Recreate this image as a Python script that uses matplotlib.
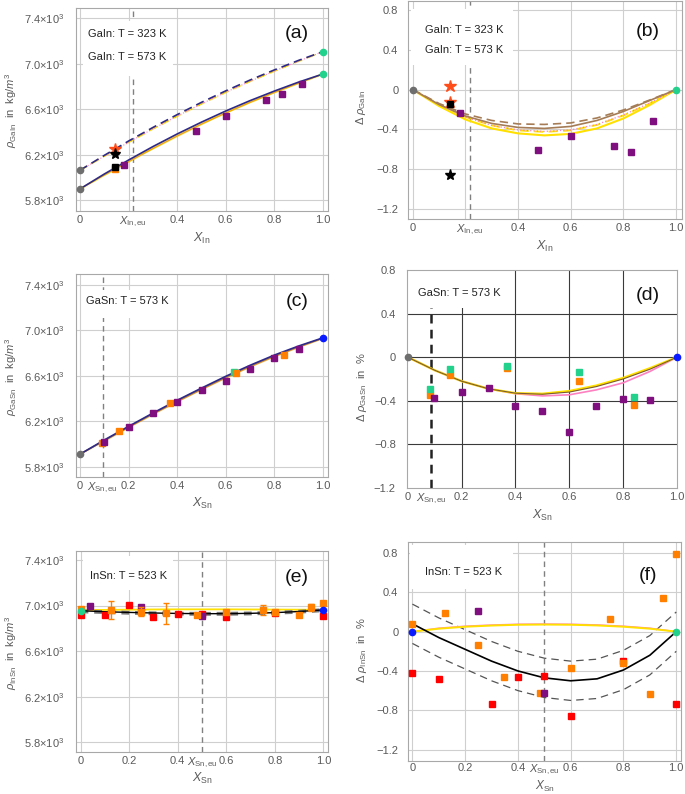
import matplotlib
matplotlib.use('Agg')
import matplotlib.pyplot as plt
from matplotlib.patches import Rectangle

plt.rcParams['font.family'] = ['Liberation Sans', 'DejaVu Sans']
plt.rcParams['mathtext.fontset'] = 'custom'
plt.rcParams['mathtext.rm'] = 'Liberation Sans'
plt.rcParams['mathtext.it'] = 'Liberation Sans:italic'
plt.rcParams['mathtext.bf'] = 'Liberation Sans:bold'
plt.rcParams['axes.unicode_minus'] = True

# ------------------------------------------------------------------ data
xs = [0.0, 0.1, 0.2, 0.3, 0.4, 0.5, 0.6, 0.7, 0.8, 0.9, 1.0]
ends_x = [0.0, 1.0]

# (a) GaIn density
a_navy_323 = [6064, 6195, 6321, 6440, 6553, 6661, 6762, 6857, 6946, 7030, 7107]
a_yellow_323 = [6064, 6188, 6310, 6428, 6540, 6648, 6750, 6846, 6936, 7023, 7107]
a_navy_573 = [5900, 6031, 6154, 6272, 6383, 6487, 6585, 6676, 6760, 6839, 6910]
a_orange_573 = [5900, 6022, 6140, 6255, 6365, 6470, 6568, 6661, 6748, 6830, 6910]
a_gray_y = [6064, 5900]
a_green_y = [7107, 6910]
a_purple_x = [0.181, 0.477, 0.602, 0.765, 0.831, 0.915]
a_purple_y = [6111, 6412, 6538, 6679, 6732, 6820]
a_sq_orange = (0.142, 6072)
a_sq_black = (0.146, 6092)
a_star_orange = (0.144, 6251)
a_star_black = (0.146, 6207)
x_in_eu = 0.218

# (b) GaIn deviation
b_brown_solid = [0, -0.15, -0.265, -0.34, -0.38, -0.39, -0.37, -0.31, -0.22, -0.11, 0]
b_brown_dash = [0, -0.14, -0.245, -0.31, -0.345, -0.35, -0.335, -0.285, -0.205, -0.105, 0]
b_yellow_dash = [0, -0.15, -0.275, -0.36, -0.41, -0.425, -0.41, -0.355, -0.26, -0.14, 0]
b_pink_dot = [0, -0.15, -0.275, -0.36, -0.405, -0.42, -0.405, -0.35, -0.255, -0.135, 0]
b_yellow_solid = [0, -0.165, -0.30, -0.39, -0.44, -0.46, -0.445, -0.39, -0.29, -0.155, 0]
b_purple_x = [0.18, 0.475, 0.60, 0.766, 0.83, 0.914]
b_purple_y = [-0.24, -0.603, -0.464, -0.569, -0.63, -0.315]
b_sq_black = (0.142, -0.146)
b_star_orange = [(0.142, 0.034), (0.142, -0.12)]
b_star_black = (0.142, -0.858)

# (c) GaSn density
c_navy = [5910, 6035, 6155, 6272, 6385, 6492, 6596, 6693, 6783, 6863, 6935]
c_brown = [5910, 6030, 6150, 6266, 6378, 6485, 6588, 6686, 6776, 6857, 6932]
c_orange = [5910, 6027, 6145, 6261, 6372, 6479, 6582, 6679, 6770, 6852, 6930]
c_purple_x = [0.1, 0.2, 0.3, 0.4, 0.5, 0.6, 0.7, 0.8, 0.9]
c_purple_y = [6020, 6152, 6276, 6373, 6475, 6557, 6660, 6754, 6833]
c_orange_x = [0.09, 0.16, 0.37, 0.64, 0.84]
c_orange_y = [6005, 6114, 6364, 6622, 6784]
c_green_pt = (0.635, 6630)
c_ends_y = [5910, 6935]
x_sn_eu_gasn = 0.093

# (d) GaSn deviation
d_yellow = [0, -0.12, -0.22, -0.29, -0.33, -0.335, -0.31, -0.26, -0.19, -0.10, 0]
d_brown = [0, -0.12, -0.22, -0.29, -0.33, -0.34, -0.32, -0.27, -0.20, -0.11, 0]
d_pink = [0, -0.12, -0.22, -0.29, -0.335, -0.355, -0.345, -0.30, -0.235, -0.13, 0]
d_purple_x = [0.097, 0.2, 0.3, 0.4, 0.5, 0.6, 0.7, 0.8, 0.9]
d_purple_y = [-0.37, -0.32, -0.285, -0.444, -0.49, -0.683, -0.45, -0.386, -0.395]
d_green_x = [0.081, 0.158, 0.367, 0.636, 0.84]
d_green_y = [-0.294, -0.11, -0.08, -0.14, -0.367]
d_orange_x = [0.081, 0.158, 0.367, 0.636, 0.84]
d_orange_y = [-0.343, -0.162, -0.095, -0.214, -0.44]
x_sn_eu_d = 0.087

# (e) InSn density
e_black = [6955, 6946, 6940, 6935, 6931, 6929, 6929, 6932, 6938, 6948, 6962]
e_graydash = [6950, 6943, 6937, 6932, 6929, 6927, 6928, 6931, 6937, 6946, 6960]
e_yellow = [6960, 6962, 6964, 6966, 6967, 6967, 6967, 6966, 6965, 6964, 6962]
e_red_x = [0.0, 0.1, 0.2, 0.3, 0.4, 0.5, 0.6, 0.8, 1.0]
e_red_y = [6915, 6917, 7005, 6903, 6924, 6928, 6897, 6935, 6910]
e_orange_x = [0.0, 0.125, 0.25, 0.35, 0.48, 0.6, 0.75, 0.8, 0.9, 0.95, 1.0]
e_orange_y = [6970, 6961, 6947, 6932, 6913, 6943, 6961, 6940, 6917, 6985, 7022]
e_orange_err = [15, 75, 38, 95, 10, 15, 45, 20, 10, 30, 20]
e_purple_x = [0.04, 0.25, 0.5]
e_purple_y = [6995, 6985, 6910]
e_purple_err = [15, 15, 10]
e_ends_y = [6955, 6962]
x_sn_eu_insn = 0.5

# (f) InSn deviation
f_black = [0.08, -0.06, -0.18, -0.30, -0.40, -0.47, -0.50, -0.48, -0.39, -0.24, 0.0]
f_upper = [0.28, 0.14, 0.02, -0.10, -0.20, -0.27, -0.30, -0.28, -0.19, -0.04, 0.20]
f_lower = [-0.12, -0.26, -0.38, -0.50, -0.60, -0.67, -0.70, -0.68, -0.59, -0.44, -0.20]
f_yellow = [0, 0.03, 0.05, 0.062, 0.07, 0.072, 0.07, 0.063, 0.05, 0.03, 0]
f_pink = [0, 0.036, 0.056, 0.068, 0.076, 0.078, 0.076, 0.069, 0.056, 0.036, 0]
f_orange_x = [0.0, 0.125, 0.25, 0.348, 0.484, 0.6, 0.749, 0.797, 0.899, 0.949, 1.0]
f_orange_y = [0.078, 0.19, -0.136, -0.458, -0.625, -0.367, 0.126, -0.323, -0.635, 0.34, 0.79]
f_red_x = [0.0, 0.1, 0.3, 0.4, 0.5, 0.6, 0.8, 1.0]
f_red_y = [-0.42, -0.482, -0.737, -0.465, -0.448, -0.856, -0.295, -0.737]
f_purple_x = [0.25, 0.5]
f_purple_y = [0.21, -0.625]

# ------------------------------------------------------------------ style
NAVY = '#2d2a8a'
YELLOW = '#ffe000'
ORANGE_L = '#f0a020'
BROWN = '#a57c55'
PINK = '#ff80c0'
PURPLE = '#7f0f7e'
ORANGE = '#ff8000'
RED = '#ff0000'
GREEN = '#22d18b'
GRAY = '#6e6e6e'
BLUE = '#0a1aff'
STAR_OR = '#ff4d1a'
TICKC = '#5a5a5a'
LGRID = '#cfcfcf'

W, H = 685, 794
fig = plt.figure(figsize=(W / 100, H / 100), dpi=100)


def px(x, y):
    return x / W, 1 - y / H


def add_ax(l, t, r, b):
    return fig.add_axes([l / W, 1 - b / H, (r - l) / W, (b - t) / H])


def style(ax, xlim, ylim, xgrid, ygrid, xticks, xtl, yticks, ytl, gridc=LGRID,
          ypad=8, xpad=3):
    ax.set_xlim(*xlim)
    ax.set_ylim(*ylim)
    for g in xgrid:
        ax.axvline(g, color=gridc, lw=0.8, zorder=0)
    for g in ygrid:
        ax.axhline(g, color=gridc, lw=0.8, zorder=0)
    ax.set_xticks(xticks)
    ax.set_xticklabels(xtl)
    ax.set_yticks(yticks)
    ax.set_yticklabels(ytl)
    ax.tick_params(axis='both', length=0, labelsize=8, labelcolor=TICKC)
    ax.tick_params(axis='y', pad=ypad)
    ax.tick_params(axis='x', pad=xpad)
    for s in ax.spines.values():
        s.set_color('#a8a8a8')
        s.set_linewidth(0.8)


def box(ax, l, t, r, b):
    x0, y0 = px(l, b)
    ax.add_patch(Rectangle((x0, y0), (r - l) / W, (b - t) / H,
                           transform=fig.transFigure, facecolor='white',
                           edgecolor='none', zorder=0.6))


def label(ax, x, y, s):
    fx, fy = px(x, y)
    ax.text(fx, fy, s, transform=fig.transFigure, fontsize=8, color='#222222',
            ha='left', va='center', zorder=5)


def panel(ax, x, y, s):
    fx, fy = px(x, y)
    ax.text(fx, fy, s, transform=fig.transFigure, fontsize=14, color='#111111',
            ha='center', va='center', zorder=5)


def ylab(ax, s, x, y):
    # x is the right edge of the rotated label
    ax.set_ylabel(s, fontsize=8, color=TICKC)
    fx, fy = px(x, y)
    ax.yaxis.set_label_coords(fx, fy, transform=fig.transFigure)


def xlab(ax, s, x, y, size=9):
    ax.set_xlabel(s, fontsize=size, color=TICKC)
    fx, fy = px(x, y)
    ax.xaxis.set_label_coords(fx, fy, transform=fig.transFigure)


rho_ticks = [5800, 6200, 6600, 7000, 7400]
rho_tl = [r'5.8$\times$10$^{3}$', r'6.2$\times$10$^{3}$', r'6.6$\times$10$^{3}$',
          r'7.0$\times$10$^{3}$', r'7.4$\times$10$^{3}$']
d_ticks = [-1.2, -0.8, -0.4, 0, 0.4, 0.8]
d_tl = ['\u22121.2', '\u22120.8', '\u22120.4', '0', '0.4', '0.8']
grid01 = [0, 0.2, 0.4, 0.6, 0.8, 1.0]
XIN = r'$X_{\mathrm{In}}$'
XINEU = r'$X_{\mathrm{In,eu}}$'
XSN = r'$X_{\mathrm{Sn}}$'
XSNEU = r'$X_{\mathrm{Sn,eu}}$'
DASH = (0, (4, 3))

# ------------------------------------------------------------------ (a)
ax = add_ax(76, 8, 328, 211)
style(ax, (-0.0165, 1.0206), (5706, 7490), grid01, rho_ticks,
      [0, x_in_eu, 0.4, 0.6, 0.8, 1.0], ['0', XINEU, '0.4', '0.6', '0.8', '1.0'],
      rho_ticks, rho_tl)
ax.axvline(x_in_eu, color='#808080', lw=1.0, ls=DASH, zorder=0.3)
box(ax, 83, 21, 173, 76)
ax.plot(xs, a_yellow_323, color=YELLOW, lw=1.2, ls=(0, (5, 3)), zorder=2)
ax.plot(xs, a_yellow_323, color=PINK, lw=0.8, ls=':', zorder=2.1)
ax.plot(xs, a_navy_323, color=NAVY, lw=1.2, ls=(0, (5, 3)), zorder=2.2)
ax.plot(xs, a_orange_573, color=YELLOW, lw=1.3, zorder=2)
ax.plot(xs, a_orange_573, color=ORANGE_L, lw=0.8, zorder=2.1)
ax.plot(xs, a_navy_573, color=NAVY, lw=1.2, zorder=2.2)
ax.plot(ends_x[:1] * 2, a_gray_y, 'o', color=GRAY, ms=4.5, zorder=4, clip_on=False)
ax.plot(ends_x[1:] * 2, a_green_y, 'o', color=GREEN, ms=4.5, zorder=4, clip_on=False)
ax.plot(a_purple_x, a_purple_y, 's', color=PURPLE, ms=4, zorder=4)
ax.plot(*a_sq_orange, 's', color=ORANGE, ms=4.5, zorder=4)
ax.plot(*a_sq_black, 's', color='black', ms=4, zorder=4.1)
ax.plot(*a_star_orange, '*', color=STAR_OR, ms=9, zorder=4)
ax.plot(*a_star_black, '*', color='black', ms=8, zorder=4.1)
label(ax, 88, 34, 'GaIn: T = 323 K')
label(ax, 88, 57, 'GaIn: T = 573 K')
panel(ax, 297, 33, '(a)')
ylab(ax, r'$\rho_{\mathrm{GaIn}}$  in  kg$/m^{3}$', 19, 110)
xlab(ax, XIN, 202, 231)

# ------------------------------------------------------------------ (b)
ax = add_ax(408, 1, 682, 219)
style(ax, (-0.018, 1.023), (-1.3, 0.89), grid01, d_ticks,
      [0, x_in_eu, 0.4, 0.6, 0.8, 1.0], ['0', XINEU, '0.4', '0.6', '0.8', '1.0'],
      d_ticks, d_tl, ypad=7)
ax.axvline(x_in_eu, color='#808080', lw=1.0, ls=DASH, zorder=0.3)
box(ax, 411, 9, 513, 65)
ax.plot(xs, b_yellow_solid, color=YELLOW, lw=1.5, zorder=2)
ax.plot(xs, b_yellow_dash, color=YELLOW, lw=1.3, ls=(0, (5, 3)), zorder=2)
ax.plot(xs, b_pink_dot, color=PINK, lw=0.9, ls=':', zorder=2.1)
ax.plot(xs, b_brown_solid, color=BROWN, lw=1.2, zorder=2.2)
ax.plot(xs, b_brown_dash, color=BROWN, lw=1.2, ls=(0, (5, 3)), zorder=2.2)
ax.plot([0], [0], 'o', color=GRAY, ms=4.5, zorder=4, clip_on=False)
ax.plot([1], [0], 'o', color=GREEN, ms=4.5, zorder=4, clip_on=False)
ax.plot(b_purple_x, b_purple_y, 's', color=PURPLE, ms=4, zorder=4)
for sx, sy in b_star_orange:
    ax.plot(sx, sy, '*', color=STAR_OR, ms=9, zorder=4)
ax.plot(*b_sq_black, 's', color='black', ms=4, zorder=4.1)
ax.plot(*b_star_black, '*', color='black', ms=8, zorder=4.1)
label(ax, 425, 30, 'GaIn: T = 323 K')
label(ax, 425, 50, 'GaIn: T = 573 K')
panel(ax, 648, 31, '(b)')
ylab(ax, r'$\Delta\ \rho_{\mathrm{GaIn}}$', 368, 107)
xlab(ax, XIN, 545, 239)

# ------------------------------------------------------------------ (c)
ax = add_ax(76, 274, 328, 477)
style(ax, (-0.0165, 1.0206), (5709, 7497), grid01, rho_ticks,
      [0, x_sn_eu_gasn, 0.2, 0.4, 0.6, 0.8, 1.0],
      ['0', XSNEU, '0.2', '0.4', '0.6', '0.8', '1.0'], rho_ticks, rho_tl)
ax.axvline(x_sn_eu_gasn, color='#808080', lw=1.0, ls=DASH, zorder=0.3)
box(ax, 83, 290, 173, 318)
ax.plot(xs, c_orange, color=ORANGE_L, lw=1.1, zorder=2)
ax.plot(xs, c_brown, color=BROWN, lw=1.0, zorder=2.1)
ax.plot(xs, c_navy, color=NAVY, lw=1.2, zorder=2.2)
ax.plot([0], c_ends_y[:1], 'o', color=GRAY, ms=4.5, zorder=4, clip_on=False)
ax.plot([1], c_ends_y[1:], 'o', color=BLUE, ms=4.5, zorder=4, clip_on=False)
ax.plot(*c_green_pt, 's', color=GREEN, ms=4, zorder=3.9)
ax.plot(c_orange_x, c_orange_y, 's', color=ORANGE, ms=4, zorder=4)
ax.plot(c_purple_x, c_purple_y, 's', color=PURPLE, ms=4, zorder=4)
label(ax, 86, 301, 'GaSn: T = 573 K')
panel(ax, 297, 302, '(c)')
ylab(ax, r'$\rho_{\mathrm{GaSn}}$  in  kg$/m^{3}$', 19, 377)
xlab(ax, XSN, 202, 496)

# ------------------------------------------------------------------ (d)
ax = add_ax(407, 270, 677, 488)
style(ax, (-0.003, 1.0), (-1.2, 0.8), [0.2, 0.4, 0.6, 0.8], [-0.8, -0.4, 0, 0.4],
      [0, x_sn_eu_d, 0.2, 0.4, 0.6, 0.8, 1.0],
      ['0', XSNEU, '0.2', '0.4', '0.6', '0.8', '1.0'], d_ticks, d_tl,
      gridc='#3a3a3a', ypad=8)
ax.axvline(x_sn_eu_d, color='#222222', lw=1.8, ls=(0, (3.5, 2.5)), zorder=0.3)
box(ax, 409, 271, 512, 308)
ax.plot(xs, d_pink, color=PINK, lw=1.2, zorder=2)
ax.plot(xs, d_yellow, color=YELLOW, lw=1.6, zorder=2.1)
ax.plot(xs, d_brown, color='#7a5a35', lw=0.8, zorder=2.2)
ax.plot([0], [0], 'o', color=GRAY, ms=4.5, zorder=4, clip_on=False)
ax.plot([1], [0], 'o', color=BLUE, ms=4.5, zorder=4, clip_on=False)
ax.plot(d_orange_x, d_orange_y, 's', color=ORANGE, ms=4, zorder=4)
ax.plot(d_green_x, d_green_y, 's', color=GREEN, ms=4, zorder=4)
ax.plot(d_purple_x, d_purple_y, 's', color=PURPLE, ms=4, zorder=4)
label(ax, 418, 293, 'GaSn: T = 573 K')
panel(ax, 648, 295, '(d)')
ylab(ax, r'$\Delta\ \rho_{\mathrm{GaSn}}$  in  %', 369, 387)
xlab(ax, XSN, 542, 508)

# ------------------------------------------------------------------ (e)
ax = add_ax(76, 551, 328, 752)
style(ax, (-0.019, 1.019), (5715, 7479), grid01, rho_ticks,
      [0, 0.2, 0.4, x_sn_eu_insn, 0.6, 0.8, 1.0],
      ['0', '0.2', '0.4', XSNEU, '0.6', '0.8', '1.0'], rho_ticks, rho_tl)
ax.axvline(x_sn_eu_insn, color='#808080', lw=1.0, ls=DASH, zorder=0.3)
box(ax, 83, 556, 173, 590)
ax.plot(xs, e_yellow, color=YELLOW, lw=1.3, zorder=2)
ax.plot(xs, e_graydash, color='#777777', lw=2.8, ls=(0, (2, 1.5)), zorder=2.1)
ax.plot(xs, e_black, color='black', lw=1.0, zorder=2.2)
ax.plot(e_red_x, e_red_y, 's', color=RED, ms=4, zorder=3, clip_on=False)
ax.errorbar(e_purple_x, e_purple_y, yerr=e_purple_err, fmt='s', color=PURPLE,
            ecolor='#c060c0', ms=4, elinewidth=0.8, capsize=1.5, zorder=3.5)
ax.errorbar(e_orange_x, e_orange_y, yerr=e_orange_err, fmt='s', color=ORANGE,
            ecolor=ORANGE, ms=4, elinewidth=1.0, capsize=2, zorder=4)
ax.plot([0], e_ends_y[:1], 'o', color=GREEN, ms=4.5, zorder=5, clip_on=False)
ax.plot([1], e_ends_y[1:], 'o', color=BLUE, ms=4.5, zorder=5, clip_on=False)
label(ax, 90, 576, 'InSn: T = 523 K')
panel(ax, 297, 577, '(e)')
ylab(ax, r'$\rho_{\mathrm{InSn}}$  in  kg$/m^{3}$', 19, 653)
xlab(ax, XSN, 202, 771)

# ------------------------------------------------------------------ (f)
ax = add_ax(408, 542, 681, 761)
style(ax, (-0.0167, 1.018), (-1.316, 0.912), grid01, d_ticks,
      [0, 0.2, 0.4, x_sn_eu_insn, 0.6, 0.8, 1.0],
      ['0', '0.2', '0.4', XSNEU, '0.6', '0.8', '1.0'], d_ticks, d_tl, ypad=7,
      xpad=1.5)
ax.axvline(x_sn_eu_insn, color='#808080', lw=1.0, ls=DASH, zorder=0.3)
box(ax, 410, 545, 513, 589)
ax.plot(xs, f_upper, color='#555555', lw=0.9, ls=(0, (6, 4)), zorder=2)
ax.plot(xs, f_lower, color='#555555', lw=0.9, ls=(0, (6, 4)), zorder=2)
ax.plot(xs, f_pink, color=PINK, lw=1.0, zorder=2.1)
ax.plot(xs, f_yellow, color=YELLOW, lw=1.4, zorder=2.2)
ax.plot(xs, f_black, color='black', lw=1.2, zorder=2.3)
ax.plot(f_red_x, f_red_y, 's', color=RED, ms=4, zorder=3, clip_on=False)
ax.plot(f_orange_x, f_orange_y, 's', color=ORANGE, ms=4, zorder=3.5, clip_on=False)
ax.plot(f_purple_x, f_purple_y, 's', color=PURPLE, ms=4, zorder=3.6)
ax.plot([0], [0], 'o', color=BLUE, ms=4.5, zorder=5, clip_on=False)
ax.plot([1], [0], 'o', color=GREEN, ms=4.5, zorder=5, clip_on=False)
label(ax, 425, 572, 'InSn: T = 523 K')
panel(ax, 648, 575, '(f)')
ylab(ax, r'$\Delta\ \rho_{\mathrm{InSn}}$  in  %', 369, 650)
xlab(ax, XSN, 545, 779, size=8.5)

fig.savefig('out.png', dpi=100)
